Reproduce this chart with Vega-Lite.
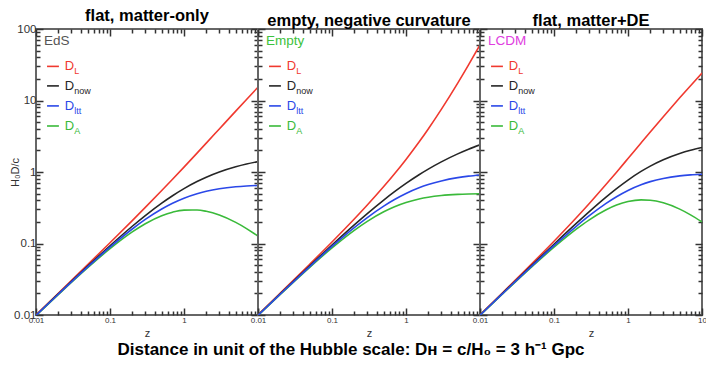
{
  "$schema": "https://vega.github.io/schema/vega-lite/v6.json",
  "background": "white",
  "padding": {"left": 8, "top": 6, "right": 0, "bottom": 2},
  "spacing": 0,
  "bounds": "flush",
  "config": {
    "font": "Liberation Sans",
    "view": {"stroke": "#666666", "strokeWidth": 2},
    "axis": {"domain": false, "grid": false, "labelColor": "#333333", "labelOverlap": false, "labelFlush": false, "labelBound": false},
    "title": {"font": "Liberation Sans", "fontSize": 16.5, "fontWeight": "bold", "color": "#000000", "offset": -1}
  },
  "title": {"text": "Distance in unit of the Hubble scale: Dʜ  = c/H₀ = 3 h⁻¹ Gpc", "orient": "bottom", "anchor": "middle", "fontSize": 17, "offset": 3, "dx": -7},
  "datasets": {
    "curves": [
      {"p": "EdS", "z": 0.01, "L": 0.010025, "now": 0.009926, "ltt": 0.009877, "A": 0.009828},
      {"p": "EdS", "z": 0.02, "L": 0.020098, "now": 0.019704, "ltt": 0.019511, "A": 0.019318},
      {"p": "EdS", "z": 0.05, "L": 0.05061, "now": 0.0482, "ltt": 0.047047, "A": 0.045905},
      {"p": "EdS", "z": 0.1, "L": 0.102381, "now": 0.093074, "ltt": 0.088811, "A": 0.084613},
      {"p": "EdS", "z": 0.2, "L": 0.20911, "now": 0.174258, "ltt": 0.159516, "A": 0.145215},
      {"p": "EdS", "z": 0.3, "L": 0.319649, "now": 0.245884, "ltt": 0.216893, "A": 0.189142},
      {"p": "EdS", "z": 0.5, "L": 0.55051, "now": 0.367007, "ltt": 0.303779, "A": 0.244671},
      {"p": "EdS", "z": 0.7, "L": 0.792319, "now": 0.46607, "ltt": 0.365896, "A": 0.274159},
      {"p": "EdS", "z": 1, "L": 1.171573, "now": 0.585786, "ltt": 0.430964, "A": 0.292893},
      {"p": "EdS", "z": 1.5, "L": 1.837722, "now": 0.735089, "ltt": 0.498012, "A": 0.294036},
      {"p": "EdS", "z": 2, "L": 2.535898, "now": 0.845299, "ltt": 0.538367, "A": 0.281766},
      {"p": "EdS", "z": 3, "L": 4, "now": 1, "ltt": 0.583333, "A": 0.25},
      {"p": "EdS", "z": 5, "L": 7.101021, "now": 1.183503, "ltt": 0.621306, "A": 0.197251},
      {"p": "EdS", "z": 7, "L": 10.343146, "now": 1.292893, "ltt": 0.637204, "A": 0.161612},
      {"p": "EdS", "z": 10, "L": 15.36675, "now": 1.396977, "ltt": 0.648393, "A": 0.126998},
      {"p": "Empty", "z": 0.01, "L": 0.01005, "now": 0.00995, "ltt": 0.009901, "A": 0.009852},
      {"p": "Empty", "z": 0.02, "L": 0.0202, "now": 0.019803, "ltt": 0.019608, "A": 0.019416},
      {"p": "Empty", "z": 0.05, "L": 0.05125, "now": 0.04879, "ltt": 0.047619, "A": 0.046485},
      {"p": "Empty", "z": 0.1, "L": 0.105, "now": 0.09531, "ltt": 0.090909, "A": 0.086777},
      {"p": "Empty", "z": 0.2, "L": 0.22, "now": 0.182322, "ltt": 0.166667, "A": 0.152778},
      {"p": "Empty", "z": 0.3, "L": 0.345, "now": 0.262364, "ltt": 0.230769, "A": 0.204142},
      {"p": "Empty", "z": 0.5, "L": 0.625, "now": 0.405465, "ltt": 0.333333, "A": 0.277778},
      {"p": "Empty", "z": 0.7, "L": 0.945, "now": 0.530628, "ltt": 0.411765, "A": 0.32699},
      {"p": "Empty", "z": 1, "L": 1.5, "now": 0.693147, "ltt": 0.5, "A": 0.375},
      {"p": "Empty", "z": 1.5, "L": 2.625, "now": 0.916291, "ltt": 0.6, "A": 0.42},
      {"p": "Empty", "z": 2, "L": 4, "now": 1.098612, "ltt": 0.666667, "A": 0.444444},
      {"p": "Empty", "z": 3, "L": 7.5, "now": 1.386294, "ltt": 0.75, "A": 0.46875},
      {"p": "Empty", "z": 5, "L": 17.5, "now": 1.791759, "ltt": 0.833333, "A": 0.486111},
      {"p": "Empty", "z": 7, "L": 31.5, "now": 2.079442, "ltt": 0.875, "A": 0.492188},
      {"p": "Empty", "z": 10, "L": 60, "now": 2.397895, "ltt": 0.909091, "A": 0.495868},
      {"p": "LCDM", "z": 0.01, "L": 0.010078, "now": 0.009978, "ltt": 0.009928, "A": 0.009879},
      {"p": "LCDM", "z": 0.02, "L": 0.020308, "now": 0.01991, "ltt": 0.019712, "A": 0.01952},
      {"p": "LCDM", "z": 0.05, "L": 0.051903, "now": 0.049431, "ltt": 0.048242, "A": 0.047077},
      {"p": "LCDM", "z": 0.1, "L": 0.107478, "now": 0.097707, "ltt": 0.093185, "A": 0.088825},
      {"p": "LCDM", "z": 0.2, "L": 0.228841, "now": 0.190701, "ltt": 0.1741, "A": 0.158918},
      {"p": "LCDM", "z": 0.3, "L": 0.362557, "now": 0.27889, "ltt": 0.24472, "A": 0.214531},
      {"p": "LCDM", "z": 0.5, "L": 0.661455, "now": 0.44097, "ltt": 0.36086, "A": 0.29398},
      {"p": "LCDM", "z": 0.7, "L": 0.994602, "now": 0.58506, "ltt": 0.45114, "A": 0.344153},
      {"p": "LCDM", "z": 1, "L": 1.54284, "now": 0.77142, "ltt": 0.55233, "A": 0.38571},
      {"p": "LCDM", "z": 1.5, "L": 2.54725, "now": 1.0189, "ltt": 0.66337, "A": 0.40756},
      {"p": "LCDM", "z": 2, "L": 3.6282, "now": 1.2094, "ltt": 0.73311, "A": 0.40313},
      {"p": "LCDM", "z": 3, "L": 5.936, "now": 1.484, "ltt": 0.81286, "A": 0.371},
      {"p": "LCDM", "z": 5, "L": 10.893, "now": 1.8155, "ltt": 0.88143, "A": 0.30258},
      {"p": "LCDM", "z": 7, "L": 16.117, "now": 2.0146, "ltt": 0.91035, "A": 0.25183},
      {"p": "LCDM", "z": 10, "L": 24.248, "now": 2.2044, "ltt": 0.93075, "A": 0.2004}
    ],
    "leg": [
      {"p": "EdS", "s": "EdS", "t": "EdS", "sub": "", "y": 69},
      {"p": "EdS", "s": "L", "t": "D", "sub": "L", "y": 30},
      {"p": "EdS", "s": "now", "t": "D", "sub": "now", "y": 16},
      {"p": "EdS", "s": "ltt", "t": "D", "sub": "ltt", "y": 8.4},
      {"p": "EdS", "s": "A", "t": "D", "sub": "A", "y": 4.4},
      {"p": "Empty", "s": "Empty", "t": "Empty", "sub": "", "y": 69},
      {"p": "Empty", "s": "L", "t": "D", "sub": "L", "y": 30},
      {"p": "Empty", "s": "now", "t": "D", "sub": "now", "y": 16},
      {"p": "Empty", "s": "ltt", "t": "D", "sub": "ltt", "y": 8.4},
      {"p": "Empty", "s": "A", "t": "D", "sub": "A", "y": 4.4},
      {"p": "LCDM", "s": "LCDM", "t": "LCDM", "sub": "", "y": 69},
      {"p": "LCDM", "s": "L", "t": "D", "sub": "L", "y": 30},
      {"p": "LCDM", "s": "now", "t": "D", "sub": "now", "y": 16},
      {"p": "LCDM", "s": "ltt", "t": "D", "sub": "ltt", "y": 8.4},
      {"p": "LCDM", "s": "A", "t": "D", "sub": "A", "y": 4.4}
    ]
  },
  "hconcat": [
    {
      "width": 222, "height": 286,
      "title": {"text": "flat, matter-only"},
      "resolve": {"axis": {"x": "independent", "y": "independent"}},
      "layer": [
        {
          "data": {"name": "curves"},
          "transform": [{"filter": "datum.p == 'EdS'"}, {"fold": ["L", "now", "A", "ltt"], "as": ["s", "d"]}],
          "mark": {"type": "line", "strokeWidth": 1.6, "interpolate": "monotone", "clip": true},
          "encoding": {
            "x": {"field": "z", "type": "quantitative", "scale": {"type": "log", "domain": [0.01, 10], "nice": false},
              "axis": {"orient": "bottom", "tickColor": "#333333", "tickWidth": 1.5, "values": [0.01,0.02,0.03,0.04,0.05,0.06,0.07,0.08,0.09,0.1,0.2,0.3,0.4,0.5,0.6,0.7,0.8,0.9,1,2,3,4,5,6,7,8,9,10],
                "tickSize": {"condition": {"test": "abs(log(datum.value)/LN10 - round(log(datum.value)/LN10)) < 0.01", "value": -7}, "value": -4},
                "labelExpr": "abs(log(datum.value)/LN10 - round(log(datum.value)/LN10)) < 0.01 && datum.value < 5 ? format(datum.value, '~g') : ''",
                "labelFontSize": 8, "labelPadding": 8, "title": "z", "titleFontSize": 11, "titleFontWeight": "normal", "titleColor": "#333333", "titlePadding": 0}},
            "y": {"field": "d", "type": "quantitative", "scale": {"type": "log", "domain": [0.01, 100], "nice": false},
              "axis": {"orient": "left", "tickColor": "#333333", "tickWidth": 1.5, "values": [0.01,0.02,0.03,0.04,0.05,0.06,0.07,0.08,0.09,0.1,0.2,0.3,0.4,0.5,0.6,0.7,0.8,0.9,1,2,3,4,5,6,7,8,9,10,20,30,40,50,60,70,80,90,100],
                "tickSize": {"condition": {"test": "abs(log(datum.value)/LN10 - round(log(datum.value)/LN10)) < 0.01", "value": -7}, "value": -4},
                "labelExpr": "abs(log(datum.value)/LN10 - round(log(datum.value)/LN10)) < 0.01 ? format(datum.value, '~g') : ''",
                "labelFontSize": 11.5, "labelPadding": 7, "title": "H₀D/c", "titleFontSize": 11, "titleFontWeight": "normal", "titleColor": "#333333", "titlePadding": -7}},
            "color": {"field": "s", "type": "nominal", "legend": null, "scale": {"domain": ["L", "now", "ltt", "A", "EdS", "Empty", "LCDM"], "range": ["#f0392f", "#262626", "#2b48e8", "#3aba3a", "#555555", "#3cc23c", "#e03ee0"]}}
          }
        },
        {
          "data": {"name": "leg"},
          "transform": [{"filter": "datum.p == 'EdS' && datum.sub != ''"}],
          "mark": {"type": "rule", "strokeWidth": 1.6},
          "encoding": {
            "x": {"datum": 0.0141, "type": "quantitative",
              "axis": {"orient": "top", "tickColor": "#333333", "tickWidth": 1.5, "values": [0.01,0.02,0.03,0.04,0.05,0.06,0.07,0.08,0.09,0.1,0.2,0.3,0.4,0.5,0.6,0.7,0.8,0.9,1,2,3,4,5,6,7,8,9,10],
                "tickSize": {"condition": {"test": "abs(log(datum.value)/LN10 - round(log(datum.value)/LN10)) < 0.01", "value": -7}, "value": -4},
                "labels": false, "title": null}},
            "x2": {"datum": 0.0204},
            "y": {"field": "y", "type": "quantitative",
              "axis": {"orient": "right", "tickColor": "#333333", "tickWidth": 1.5, "values": [0.01,0.02,0.03,0.04,0.05,0.06,0.07,0.08,0.09,0.1,0.2,0.3,0.4,0.5,0.6,0.7,0.8,0.9,1,2,3,4,5,6,7,8,9,10,20,30,40,50,60,70,80,90,100],
                "tickSize": {"condition": {"test": "abs(log(datum.value)/LN10 - round(log(datum.value)/LN10)) < 0.01", "value": -7}, "value": -4},
                "labels": false, "title": null}},
            "color": {"field": "s", "type": "nominal", "legend": null, "scale": {"domain": ["L", "now", "ltt", "A", "EdS", "Empty", "LCDM"], "range": ["#f0392f", "#262626", "#2b48e8", "#3aba3a", "#555555", "#3cc23c", "#e03ee0"]}}
          }
        },
        {
          "data": {"name": "leg"},
          "transform": [{"filter": "datum.p == 'EdS' && datum.sub != ''"}],
          "mark": {"type": "text", "fontSize": 13, "align": "left", "baseline": "middle"},
          "encoding": {
            "x": {"datum": 0.0245, "type": "quantitative", "axis": null},
            "y": {"field": "y", "type": "quantitative", "axis": null},
            "text": {"field": "t"},
            "color": {"field": "s", "type": "nominal", "legend": null, "scale": {"domain": ["L", "now", "ltt", "A", "EdS", "Empty", "LCDM"], "range": ["#f0392f", "#262626", "#2b48e8", "#3aba3a", "#555555", "#3cc23c", "#e03ee0"]}}
          }
        },
        {
          "data": {"name": "leg"},
          "transform": [{"filter": "datum.p == 'EdS' && datum.sub != ''"}],
          "mark": {"type": "text", "fontSize": 9, "align": "left", "baseline": "middle", "dx": 9.5, "dy": 5},
          "encoding": {
            "x": {"datum": 0.0245, "type": "quantitative", "axis": null},
            "y": {"field": "y", "type": "quantitative", "axis": null},
            "text": {"field": "sub"},
            "color": {"field": "s", "type": "nominal", "legend": null, "scale": {"domain": ["L", "now", "ltt", "A", "EdS", "Empty", "LCDM"], "range": ["#f0392f", "#262626", "#2b48e8", "#3aba3a", "#555555", "#3cc23c", "#e03ee0"]}}
          }
        },
        {
          "data": {"name": "leg"},
          "transform": [{"filter": "datum.p == 'EdS' && datum.sub == ''"}],
          "mark": {"type": "text", "fontSize": 13.5, "align": "left", "baseline": "middle"},
          "encoding": {
            "x": {"datum": 0.0128, "type": "quantitative", "axis": null},
            "y": {"field": "y", "type": "quantitative", "axis": null},
            "text": {"field": "t"},
            "color": {"field": "s", "type": "nominal", "legend": null, "scale": {"domain": ["L", "now", "ltt", "A", "EdS", "Empty", "LCDM"], "range": ["#f0392f", "#262626", "#2b48e8", "#3aba3a", "#555555", "#3cc23c", "#e03ee0"]}}
          }
        }
      ]
    },
    {
      "width": 222, "height": 286,
      "title": {"text": "empty, negative curvature"},
      "resolve": {"axis": {"x": "independent", "y": "independent"}},
      "layer": [
        {
          "data": {"name": "curves"},
          "transform": [{"filter": "datum.p == 'Empty'"}, {"fold": ["L", "now", "A", "ltt"], "as": ["s", "d"]}],
          "mark": {"type": "line", "strokeWidth": 1.6, "interpolate": "monotone", "clip": true},
          "encoding": {
            "x": {"field": "z", "type": "quantitative", "scale": {"type": "log", "domain": [0.01, 10], "nice": false},
              "axis": {"orient": "bottom", "tickColor": "#333333", "tickWidth": 1.5, "values": [0.01,0.02,0.03,0.04,0.05,0.06,0.07,0.08,0.09,0.1,0.2,0.3,0.4,0.5,0.6,0.7,0.8,0.9,1,2,3,4,5,6,7,8,9,10],
                "tickSize": {"condition": {"test": "abs(log(datum.value)/LN10 - round(log(datum.value)/LN10)) < 0.01", "value": -7}, "value": -4},
                "labelExpr": "abs(log(datum.value)/LN10 - round(log(datum.value)/LN10)) < 0.01 && datum.value < 5 ? format(datum.value, '~g') : ''",
                "labelFontSize": 8, "labelPadding": 8, "title": "z", "titleFontSize": 11, "titleFontWeight": "normal", "titleColor": "#333333", "titlePadding": 0}},
            "y": {"field": "d", "type": "quantitative", "scale": {"type": "log", "domain": [0.01, 100], "nice": false},
              "axis": {"orient": "left", "tickColor": "#333333", "tickWidth": 1.5, "values": [0.01,0.02,0.03,0.04,0.05,0.06,0.07,0.08,0.09,0.1,0.2,0.3,0.4,0.5,0.6,0.7,0.8,0.9,1,2,3,4,5,6,7,8,9,10,20,30,40,50,60,70,80,90,100],
                "tickSize": {"condition": {"test": "abs(log(datum.value)/LN10 - round(log(datum.value)/LN10)) < 0.01", "value": -7}, "value": -4},
                "labels": false, "title": null}},
            "color": {"field": "s", "type": "nominal", "legend": null, "scale": {"domain": ["L", "now", "ltt", "A", "EdS", "Empty", "LCDM"], "range": ["#f0392f", "#262626", "#2b48e8", "#3aba3a", "#555555", "#3cc23c", "#e03ee0"]}}
          }
        },
        {
          "data": {"name": "leg"},
          "transform": [{"filter": "datum.p == 'Empty' && datum.sub != ''"}],
          "mark": {"type": "rule", "strokeWidth": 1.6},
          "encoding": {
            "x": {"datum": 0.0141, "type": "quantitative",
              "axis": {"orient": "top", "tickColor": "#333333", "tickWidth": 1.5, "values": [0.01,0.02,0.03,0.04,0.05,0.06,0.07,0.08,0.09,0.1,0.2,0.3,0.4,0.5,0.6,0.7,0.8,0.9,1,2,3,4,5,6,7,8,9,10],
                "tickSize": {"condition": {"test": "abs(log(datum.value)/LN10 - round(log(datum.value)/LN10)) < 0.01", "value": -7}, "value": -4},
                "labels": false, "title": null}},
            "x2": {"datum": 0.0204},
            "y": {"field": "y", "type": "quantitative",
              "axis": {"orient": "right", "tickColor": "#333333", "tickWidth": 1.5, "values": [0.01,0.02,0.03,0.04,0.05,0.06,0.07,0.08,0.09,0.1,0.2,0.3,0.4,0.5,0.6,0.7,0.8,0.9,1,2,3,4,5,6,7,8,9,10,20,30,40,50,60,70,80,90,100],
                "tickSize": {"condition": {"test": "abs(log(datum.value)/LN10 - round(log(datum.value)/LN10)) < 0.01", "value": -7}, "value": -4},
                "labels": false, "title": null}},
            "color": {"field": "s", "type": "nominal", "legend": null, "scale": {"domain": ["L", "now", "ltt", "A", "EdS", "Empty", "LCDM"], "range": ["#f0392f", "#262626", "#2b48e8", "#3aba3a", "#555555", "#3cc23c", "#e03ee0"]}}
          }
        },
        {
          "data": {"name": "leg"},
          "transform": [{"filter": "datum.p == 'Empty' && datum.sub != ''"}],
          "mark": {"type": "text", "fontSize": 13, "align": "left", "baseline": "middle"},
          "encoding": {
            "x": {"datum": 0.0245, "type": "quantitative", "axis": null},
            "y": {"field": "y", "type": "quantitative", "axis": null},
            "text": {"field": "t"},
            "color": {"field": "s", "type": "nominal", "legend": null, "scale": {"domain": ["L", "now", "ltt", "A", "EdS", "Empty", "LCDM"], "range": ["#f0392f", "#262626", "#2b48e8", "#3aba3a", "#555555", "#3cc23c", "#e03ee0"]}}
          }
        },
        {
          "data": {"name": "leg"},
          "transform": [{"filter": "datum.p == 'Empty' && datum.sub != ''"}],
          "mark": {"type": "text", "fontSize": 9, "align": "left", "baseline": "middle", "dx": 9.5, "dy": 5},
          "encoding": {
            "x": {"datum": 0.0245, "type": "quantitative", "axis": null},
            "y": {"field": "y", "type": "quantitative", "axis": null},
            "text": {"field": "sub"},
            "color": {"field": "s", "type": "nominal", "legend": null, "scale": {"domain": ["L", "now", "ltt", "A", "EdS", "Empty", "LCDM"], "range": ["#f0392f", "#262626", "#2b48e8", "#3aba3a", "#555555", "#3cc23c", "#e03ee0"]}}
          }
        },
        {
          "data": {"name": "leg"},
          "transform": [{"filter": "datum.p == 'Empty' && datum.sub == ''"}],
          "mark": {"type": "text", "fontSize": 13.5, "align": "left", "baseline": "middle"},
          "encoding": {
            "x": {"datum": 0.0128, "type": "quantitative", "axis": null},
            "y": {"field": "y", "type": "quantitative", "axis": null},
            "text": {"field": "t"},
            "color": {"field": "s", "type": "nominal", "legend": null, "scale": {"domain": ["L", "now", "ltt", "A", "EdS", "Empty", "LCDM"], "range": ["#f0392f", "#262626", "#2b48e8", "#3aba3a", "#555555", "#3cc23c", "#e03ee0"]}}
          }
        }
      ]
    },
    {
      "width": 222, "height": 286,
      "title": {"text": "flat, matter+DE"},
      "resolve": {"axis": {"x": "independent", "y": "independent"}},
      "layer": [
        {
          "data": {"name": "curves"},
          "transform": [{"filter": "datum.p == 'LCDM'"}, {"fold": ["L", "now", "A", "ltt"], "as": ["s", "d"]}],
          "mark": {"type": "line", "strokeWidth": 1.6, "interpolate": "monotone", "clip": true},
          "encoding": {
            "x": {"field": "z", "type": "quantitative", "scale": {"type": "log", "domain": [0.01, 10], "nice": false},
              "axis": {"orient": "bottom", "tickColor": "#333333", "tickWidth": 1.5, "values": [0.01,0.02,0.03,0.04,0.05,0.06,0.07,0.08,0.09,0.1,0.2,0.3,0.4,0.5,0.6,0.7,0.8,0.9,1,2,3,4,5,6,7,8,9,10],
                "tickSize": {"condition": {"test": "abs(log(datum.value)/LN10 - round(log(datum.value)/LN10)) < 0.01", "value": -7}, "value": -4},
                "labelExpr": "abs(log(datum.value)/LN10 - round(log(datum.value)/LN10)) < 0.01 ? format(datum.value, '~g') : ''",
                "labelFontSize": 8, "labelPadding": 8, "title": "z", "titleFontSize": 11, "titleFontWeight": "normal", "titleColor": "#333333", "titlePadding": 0}},
            "y": {"field": "d", "type": "quantitative", "scale": {"type": "log", "domain": [0.01, 100], "nice": false},
              "axis": {"orient": "left", "tickColor": "#333333", "tickWidth": 1.5, "values": [0.01,0.02,0.03,0.04,0.05,0.06,0.07,0.08,0.09,0.1,0.2,0.3,0.4,0.5,0.6,0.7,0.8,0.9,1,2,3,4,5,6,7,8,9,10,20,30,40,50,60,70,80,90,100],
                "tickSize": {"condition": {"test": "abs(log(datum.value)/LN10 - round(log(datum.value)/LN10)) < 0.01", "value": -7}, "value": -4},
                "labels": false, "title": null}},
            "color": {"field": "s", "type": "nominal", "legend": null, "scale": {"domain": ["L", "now", "ltt", "A", "EdS", "Empty", "LCDM"], "range": ["#f0392f", "#262626", "#2b48e8", "#3aba3a", "#555555", "#3cc23c", "#e03ee0"]}}
          }
        },
        {
          "data": {"name": "leg"},
          "transform": [{"filter": "datum.p == 'LCDM' && datum.sub != ''"}],
          "mark": {"type": "rule", "strokeWidth": 1.6},
          "encoding": {
            "x": {"datum": 0.0141, "type": "quantitative",
              "axis": {"orient": "top", "tickColor": "#333333", "tickWidth": 1.5, "values": [0.01,0.02,0.03,0.04,0.05,0.06,0.07,0.08,0.09,0.1,0.2,0.3,0.4,0.5,0.6,0.7,0.8,0.9,1,2,3,4,5,6,7,8,9,10],
                "tickSize": {"condition": {"test": "abs(log(datum.value)/LN10 - round(log(datum.value)/LN10)) < 0.01", "value": -7}, "value": -4},
                "labels": false, "title": null}},
            "x2": {"datum": 0.0204},
            "y": {"field": "y", "type": "quantitative",
              "axis": {"orient": "right", "tickColor": "#333333", "tickWidth": 1.5, "values": [0.01,0.02,0.03,0.04,0.05,0.06,0.07,0.08,0.09,0.1,0.2,0.3,0.4,0.5,0.6,0.7,0.8,0.9,1,2,3,4,5,6,7,8,9,10,20,30,40,50,60,70,80,90,100],
                "tickSize": {"condition": {"test": "abs(log(datum.value)/LN10 - round(log(datum.value)/LN10)) < 0.01", "value": -7}, "value": -4},
                "labels": false, "title": null}},
            "color": {"field": "s", "type": "nominal", "legend": null, "scale": {"domain": ["L", "now", "ltt", "A", "EdS", "Empty", "LCDM"], "range": ["#f0392f", "#262626", "#2b48e8", "#3aba3a", "#555555", "#3cc23c", "#e03ee0"]}}
          }
        },
        {
          "data": {"name": "leg"},
          "transform": [{"filter": "datum.p == 'LCDM' && datum.sub != ''"}],
          "mark": {"type": "text", "fontSize": 13, "align": "left", "baseline": "middle"},
          "encoding": {
            "x": {"datum": 0.0245, "type": "quantitative", "axis": null},
            "y": {"field": "y", "type": "quantitative", "axis": null},
            "text": {"field": "t"},
            "color": {"field": "s", "type": "nominal", "legend": null, "scale": {"domain": ["L", "now", "ltt", "A", "EdS", "Empty", "LCDM"], "range": ["#f0392f", "#262626", "#2b48e8", "#3aba3a", "#555555", "#3cc23c", "#e03ee0"]}}
          }
        },
        {
          "data": {"name": "leg"},
          "transform": [{"filter": "datum.p == 'LCDM' && datum.sub != ''"}],
          "mark": {"type": "text", "fontSize": 9, "align": "left", "baseline": "middle", "dx": 9.5, "dy": 5},
          "encoding": {
            "x": {"datum": 0.0245, "type": "quantitative", "axis": null},
            "y": {"field": "y", "type": "quantitative", "axis": null},
            "text": {"field": "sub"},
            "color": {"field": "s", "type": "nominal", "legend": null, "scale": {"domain": ["L", "now", "ltt", "A", "EdS", "Empty", "LCDM"], "range": ["#f0392f", "#262626", "#2b48e8", "#3aba3a", "#555555", "#3cc23c", "#e03ee0"]}}
          }
        },
        {
          "data": {"name": "leg"},
          "transform": [{"filter": "datum.p == 'LCDM' && datum.sub == ''"}],
          "mark": {"type": "text", "fontSize": 13.5, "align": "left", "baseline": "middle"},
          "encoding": {
            "x": {"datum": 0.0128, "type": "quantitative", "axis": null},
            "y": {"field": "y", "type": "quantitative", "axis": null},
            "text": {"field": "t"},
            "color": {"field": "s", "type": "nominal", "legend": null, "scale": {"domain": ["L", "now", "ltt", "A", "EdS", "Empty", "LCDM"], "range": ["#f0392f", "#262626", "#2b48e8", "#3aba3a", "#555555", "#3cc23c", "#e03ee0"]}}
          }
        }
      ]
    }
  ]
}
